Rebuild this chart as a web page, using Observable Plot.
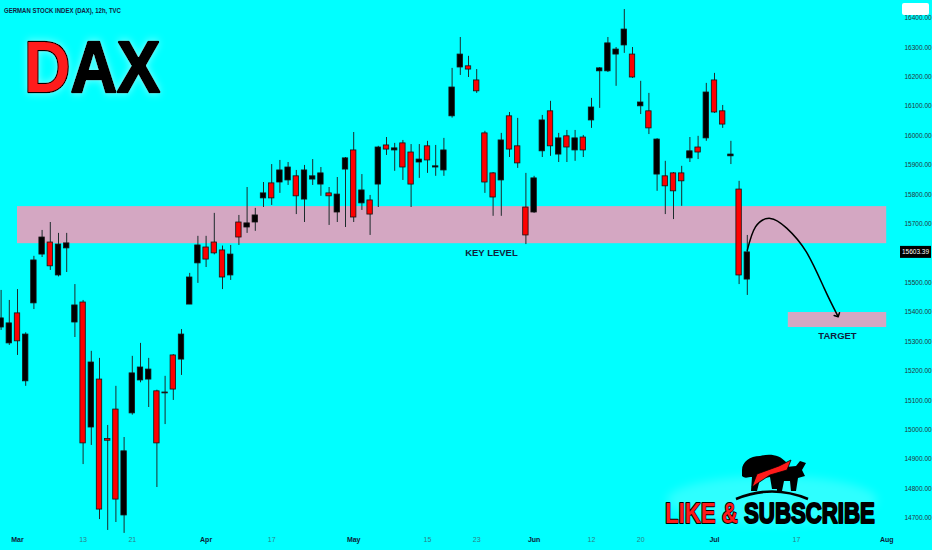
<!DOCTYPE html>
<html><head><meta charset="utf-8">
<script src="https://cdn.jsdelivr.net/npm/d3@7"></script>
<script src="https://cdn.jsdelivr.net/npm/@observablehq/plot@0.6"></script>
<style>
html,body{margin:0;padding:0;background:#00ffff;}
#chart{width:932px;height:550px;overflow:hidden;}
</style></head><body><div id="chart"></div>
<script>
// trading-day index (0 = 1 Mar 2023), 12h candles, one per session
const dayIndex = [-2,-1,0,1,2,3,4,5,6,7,8,9,10,11,12,13,14,15,16,17,18,19,20,21,22,23,24,25,26,27,28,29,30,31,32,33,34,35,36,37,38,39,40,41,42,43,44,45,46,47,48,49,50,51,52,53,54,55,56,57,58,59,60,61,62,63,64,65,66,67,68,69,70,71,72,73,74,75,76,77,78,79,80,81,82,83,84,85,86,87,88,89];
const opens  = [15348,15294,15396,15165,15430,15596,15637,15525,15617,15365,15433,15008,15171,14969,15069,14709,15056,15168,15171,15131,15127,15253,15239,15426,15566,15620,15637,15610,15525,15705,15688,15705,15787,15838,15841,15848,15862,15783,15851,15834,15804,15739,15885,15950,15770,15780,15834,15967,15950,15974,15943,15909,15964,15892,15882,16066,16232,16236,16188,16008,15872,15848,16066,15964,15756,15739,15947,16083,15936,15998,15950,15994,16052,16219,16219,16276,16307,16276,16100,16083,15868,15862,15872,15872,15923,15960,15991,16188,16083,15930,15817,15511];
const highs  = [15474,15440,15477,15330,15590,15678,15705,15668,15668,15494,15440,15267,15243,15015,15148,14974,15250,15294,15243,15135,15182,15256,15341,15532,15658,15658,15736,15625,15627,15729,15824,15753,15841,15902,15916,15909,15882,15899,15919,15892,15824,15858,15926,16011,15868,15797,15964,15994,15974,15984,15970,15970,15981,15967,15991,16229,16334,16270,16225,16015,15875,16008,16079,16059,15872,15862,16069,16117,16008,16018,16018,16001,16127,16232,16334,16300,16429,16300,16185,16144,15990,15913,15875,15896,15994,15998,16178,16212,16103,15981,15845,15661];
const lows   = [15338,15287,15253,15148,15409,15586,15542,15520,15535,15314,14882,14947,14695,14658,14685,14648,15050,15160,15076,14804,15018,15100,15185,15426,15498,15552,15595,15477,15508,15627,15668,15675,15756,15763,15804,15831,15732,15705,15831,15794,15695,15705,15688,15705,15746,15661,15756,15933,15879,15848,15756,15855,15872,15862,15862,16060,16205,16198,16144,15804,15726,15726,15926,15889,15630,15736,15926,15930,15909,15909,15913,15926,16025,16093,16215,16168,16280,16195,16072,16004,15811,15732,15715,15760,15909,15919,15981,16076,16025,15902,15494,15457];
const closes = [15379,15362,15301,15324,15576,15654,15556,15630,15634,15423,14954,15229,14729,14963,14763,14927,15192,15212,15205,14954,15124,15137,15324,15518,15627,15579,15600,15518,15596,15654,15702,15729,15804,15787,15882,15892,15794,15882,15862,15872,15794,15800,15923,15722,15814,15732,15960,15953,15957,15892,15834,15919,15916,15896,15950,16164,16276,16225,16151,15841,15790,15984,15953,15906,15661,15855,16052,15964,15991,15960,15991,15950,16096,16229,16314,16293,16361,16198,16113,16025,15987,15828,15811,15845,15947,15943,16147,16079,16038,15936,15525,15603.39];

// axis ticks (15600 sits under the last-price tag)
const priceTicks = [14700,14800,14900,15000,15100,15200,15300,15400,15500,15700,15800,15900,16000,16100,16200,16300,16400];
const dateTickIndex  = [0,8,14,23,31,41,50,56,63,70,76,85,95,106];
const dateTickLabels = ["Mar","13","21","Apr","17","May","15","23","Jun","12","20","Jul","17","Aug"];
const dateTickIsMonth = [true,false,false,true,false,true,false,false,true,false,false,true,false,true];

// annotations (price levels, in index / price units)
const keyLevelLow = 15633, keyLevelHigh = 15759, keyLevelStart = 0, zoneEnd = 106;
const targetLow = 15348, targetHigh = 15399, targetStart = 94;
const keyLabelIndex = 57.8, targetLabelIndex = 100;
const projIndex = [89.0, 90.0, 91.8, 93.8, 96.2, 98.4, 100.0];
const projPrice = [15610, 15690, 15719, 15686, 15605, 15480, 15389];

const candles = dayIndex.map((d, k) => ({i: d, open: opens[k], high: highs[k], low: lows[k], close: closes[k]}));
const dateTicks = dateTickIndex.map((d, k) => ({i: d, label: dateTickLabels[k], month: dateTickIsMonth[k]}));
const proj = projIndex.map((d, k) => ({i: d, price: projPrice[k]}));
const lastClose = closes[closes.length - 1];

const UP = "#000000", DOWN = "#ff0000", ZONE = "#d4a7c2";
const FONT = "'Liberation Sans', Arial, sans-serif";

const chart = Plot.plot({
  width: 932, height: 550,
  marginTop: 0, marginLeft: 0, marginRight: 47, marginBottom: 20,
  style: {background: "#00ffff", fontFamily: FONT},
  x: {type: "linear", domain: [0, 106], range: [17, 886.2], axis: null},
  y: {domain: [14700, 16300], range: [517.6, 47], axis: null},
  color: {type: "identity"},
  marks: [
    Plot.rect([{a: keyLevelStart, b: zoneEnd, lo: keyLevelLow, hi: keyLevelHigh}], {x1: "a", x2: "b", y1: "lo", y2: "hi", fill: ZONE}),
    Plot.rect([{a: targetStart, b: zoneEnd, lo: targetLow, hi: targetHigh}], {x1: "a", x2: "b", y1: "lo", y2: "hi", fill: ZONE}),
    Plot.ruleX(candles, {x: "i", y1: "low", y2: "high", stroke: "#1c2b2b", strokeWidth: 1}),
    Plot.rect(candles, {x1: d => d.i - 0.33, x2: d => d.i + 0.33, y1: "open", y2: "close",
      fill: d => d.close >= d.open ? UP : DOWN, stroke: "#141414", strokeWidth: 0.8}),
    Plot.line(proj, {x: "i", y: "price", curve: "natural", stroke: "#000", strokeWidth: 1.5, markerEnd: "arrow"}),
    Plot.text([{i: keyLabelIndex, p: keyLevelLow}], {x: "i", y: "p", text: () => "KEY LEVEL", lineAnchor: "top", dy: 6,
      fontSize: 9.5, fontWeight: 600, fill: "#0f1f3d"}),
    Plot.text([{i: targetLabelIndex, p: targetLow}], {x: "i", y: "p", text: () => "TARGET", lineAnchor: "top", dy: 5,
      fontSize: 9.5, fontWeight: 600, fill: "#0f1f3d"}),
    Plot.axisY(priceTicks, {anchor: "right", tickSize: 0, tickPadding: 19, tickFormat: d => d.toFixed(2),
      fontSize: 6.5, fill: "#24343a"}),
    Plot.text(dateTicks.filter(d => d.month), {x: "i", text: "label", frameAnchor: "bottom", dy: 11,
      fontSize: 7, fontWeight: "bold", fill: "#0b1d3a"}),
    Plot.text(dateTicks.filter(d => !d.month), {x: "i", text: "label", frameAnchor: "bottom", dy: 11,
      fontSize: 7, fill: "#2e7f86"})
  ]
});
document.getElementById("chart").append(chart);

const svg = d3.select(chart);
const yS = chart.scale("y");
const defs = svg.append("defs");
// soft white halo drawn behind the graphic itself
const halo = defs.append("filter").attr("id", "halo").attr("x", "-20%").attr("y", "-30%").attr("width", "140%").attr("height", "160%");
halo.append("feGaussianBlur").attr("in", "SourceAlpha").attr("stdDeviation", 4).attr("result", "b");
halo.append("feFlood").attr("flood-color", "#ffffff").attr("flood-opacity", 0.5).attr("result", "w");
halo.append("feComposite").attr("in", "w").attr("in2", "b").attr("operator", "in").attr("result", "g");
const hm = halo.append("feMerge");
hm.append("feMergeNode").attr("in", "g");
hm.append("feMergeNode").attr("in", "SourceGraphic");
const glow = defs.append("filter").attr("id", "glow").attr("x", "-20%").attr("y", "-30%").attr("width", "140%").attr("height", "160%");
glow.append("feGaussianBlur").attr("stdDeviation", 5);

const ann = svg.append("g").attr("text-anchor", "start").attr("font-family", FONT);

// squeeze a text horizontally so its natural width becomes `w`, anchored at (x, y)
function fit(sel, x, y, w) {
  const natural = sel.node().getComputedTextLength();
  sel.attr("x", 0).attr("y", 0).attr("transform", `translate(${x},${y}) scale(${w / natural},1)`);
  return sel;
}

// header
fit(ann.append("text").attr("font-size", 8).attr("font-weight", 700).attr("fill", "#12233f")
  .text("GERMAN STOCK INDEX (DAX), 12h, TVC"), 4, 13, 117);

// big DAX title with halo
const dax = ann.append("text").attr("font-size", 72).attr("font-weight", 900).attr("filter", "url(#halo)")
  .attr("stroke", "#000").attr("stroke-width", 2.5).attr("paint-order", "stroke").attr("stroke-linejoin", "round");
dax.append("tspan").attr("fill", "#ff1a1a").text("D");
dax.append("tspan").attr("fill", "#000").text("AX");
fit(dax, 24, 92, 136);

// top-right white tag
ann.append("rect").attr("x", 902).attr("y", 3).attr("width", 27).attr("height", 12).attr("rx", 2).attr("fill", "#ffffff");

// last price label
const ly = yS.apply(lastClose);
ann.append("rect").attr("x", 900).attr("y", ly - 6).attr("width", 31).attr("height", 12).attr("fill", "#000");
ann.append("text").attr("x", 915.5).attr("y", ly + 2.3).attr("text-anchor", "middle")
  .attr("font-size", 6.5).attr("fill", "#fff").text(lastClose.toFixed(2));

// like & subscribe logo
ann.append("ellipse").attr("cx", 772).attr("cy", 500).attr("rx", 105).attr("ry", 24).attr("fill", "#ffffff")
  .attr("opacity", 0.18).attr("filter", "url(#glow)");
const logo = ann.append("g");
logo.append("path").attr("fill", "#000").attr("d",
  "M742,470 C742,462 750,456 760,456 C770,453 780,455 786,462 L790,470 L782,474 L778,489 L772,489 L770,477 L760,479 L757,491 L751,491 L752,477 C748,477 745,479 742,476 Z");
logo.append("path").attr("fill", "#000").attr("d",
  "M776,468 L796,466 L800,461 L806,463 L802,470 L805,476 L798,478 L796,491 L791,491 L790,481 L784,481 L782,491 L777,491 Z");
logo.append("path").attr("fill", "#ff1a1a").attr("stroke", "#000").attr("stroke-width", 0.8).attr("d",
  "M752,487 L757,474 L779,466 L791,460 L787,470 L770,475 Z");
logo.append("path").attr("fill", "none").attr("stroke", "#000").attr("stroke-width", 2.5).attr("d",
  "M736,499 Q772,484 808,499");
const sub = ann.append("text").attr("font-size", 30).attr("font-weight", 900)
  .attr("stroke", "#000").attr("stroke-width", 2).attr("paint-order", "stroke").attr("stroke-linejoin", "round");
sub.append("tspan").attr("fill", "#ff1a1a").text("LIKE & ");
sub.append("tspan").attr("fill", "#000").text("SUBSCRIBE");
fit(sub, 665, 523, 210);
</script></body></html>
